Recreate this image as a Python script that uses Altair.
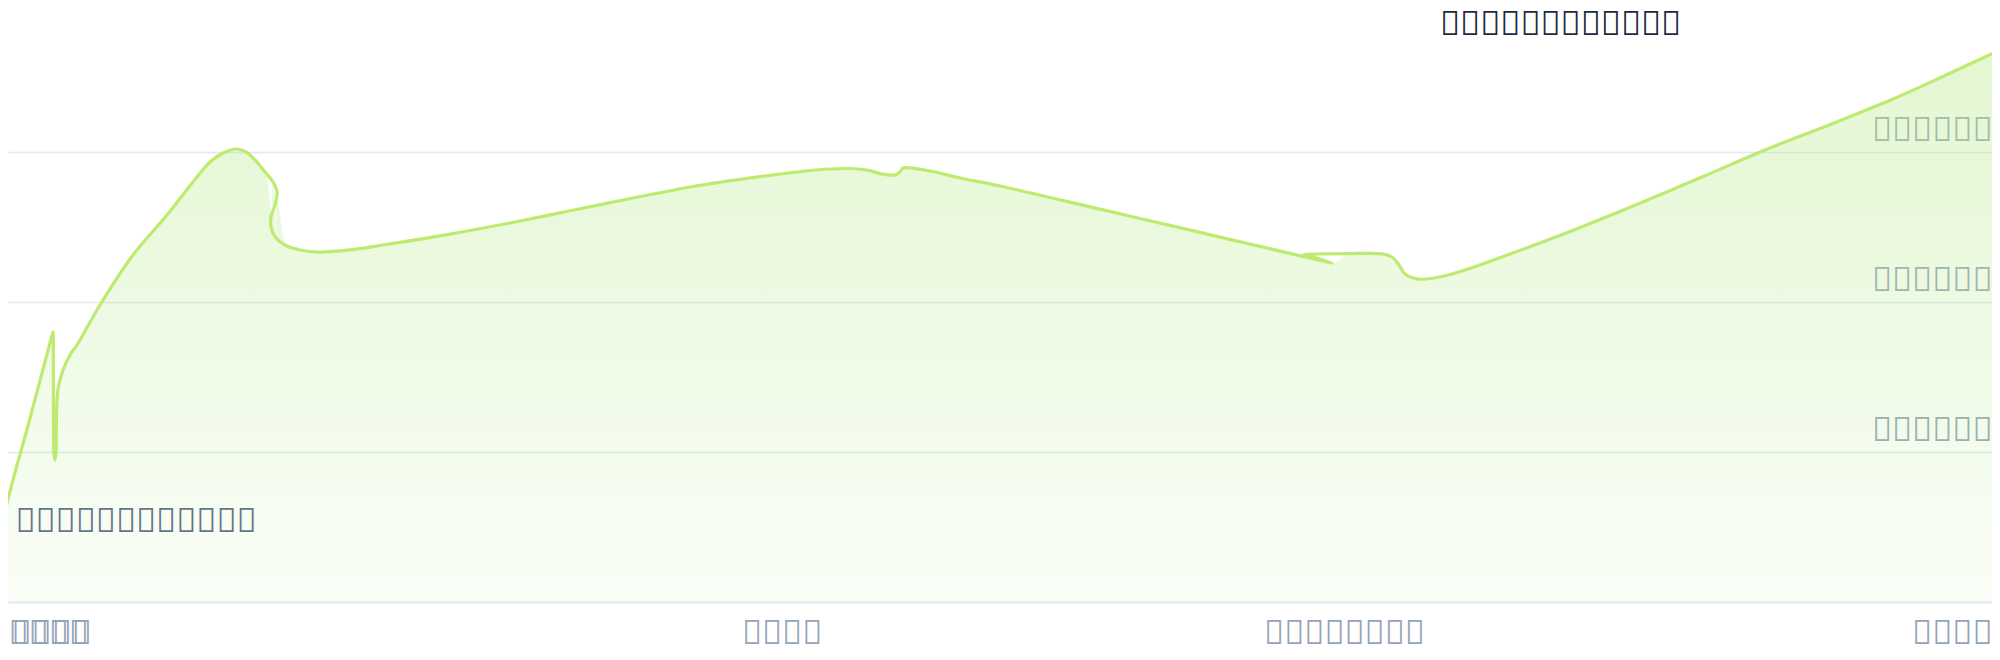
import json
import altair as alt
import pandas as pd

# ---- series: points of the curve, in drawing order (x = timeline %, y = value) ----
path_x = [0.00, 0.25, 1.45, 2.50, 2.65, 2.665, 2.675, 2.70, 2.75, 2.80, 2.825, 2.90,
          3.15, 3.50, 3.85, 5.00, 6.65, 8.35, 9.65, 10.50, 11.15, 11.80, 12.30, 12.75,
          13.25, 13.65, 13.85, 13.75, 13.55, 13.56, 13.80, 14.35, 15.00, 15.95, 17.50,
          19.15, 22.50, 25.50, 28.70, 31.90, 35.10, 38.25, 40.80, 42.40, 43.35, 44.10,
          44.75, 45.00, 45.15, 45.60, 46.50, 48.00, 50.00, 55.00, 60.00, 64.50, 66.60,
          66.00, 65.20, 65.75, 67.50, 69.15, 69.60, 69.95, 70.25, 70.90, 71.70, 72.95,
          75.50, 78.70, 81.90, 85.10, 88.25, 91.45, 94.65, 97.85, 100.00]
path_y = [31.3, 59.3, 120.0, 172.7, 180.0, 170.0, 120.0, 98.7, 94.7, 100.0, 124.7, 142.0,
          154.7, 164.7, 171.3, 198.0, 231.3, 258.0, 280.0, 293.3, 299.3, 302.0, 300.0, 294.7,
          286.7, 280.0, 273.3, 264.7, 256.7, 249.3, 242.7, 237.3, 234.7, 233.3, 234.7,
          238.0, 245.3, 252.7, 261.3, 270.0, 278.0, 284.0, 288.0, 289.0, 288.0, 285.3,
          284.7, 286.7, 289.3, 289.3, 287.3, 282.7, 277.3, 261.9, 246.4, 232.4, 226.0,
          228.7, 231.7, 232.0, 232.3, 232.0, 230.0, 224.7, 218.7, 215.3, 216.0, 220.0,
          232.0, 248.0, 265.3, 283.3, 301.3, 318.0, 335.3, 354.7, 368.0]

# ---- axis ticks and labels (glyphs the reference shows as empty boxes) ----
x_tick_values = [0.4, 0.55, 39.08, 67.2, 99.6]
x_tick_labels = ["\ue000\ue001\ue002\ue003", "\ue000\ue001\ue002\ue003",
                 "\ue004\ue005\ue006\ue007",
                 "\ue008\ue009\ue00a\ue00b\ue00c\ue00d\ue00e\ue00f",
                 "\ue010\ue011\ue012\ue013"]
y_tick_values = [100, 200, 300]
y_tick_labels = ["\ue020\ue021\ue021\ue022\ue023\ue024",
                 "\ue025\ue021\ue021\ue022\ue023\ue024",
                 "\ue026\ue021\ue021\ue022\ue023\ue024"]

# ---- texts ----
title_text = ["\ue030\ue031\ue032\ue033\ue034\ue035\ue036\ue037\ue038\ue039\ue03a\ue03b"]
title_x = [72.0]
title_y = [378.0]
note_text = ["\ue040\ue041\ue042\ue043\ue044\ue045\ue046\ue047\ue048\ue049\ue04a\ue04b"]
note_x = [0.77]
note_y = [46.7]

FONT = "Noto Sans"
FS = 33.5
LINE = "#bdeb6f"
FILL = "#baea8f"


def label_expr(values, labels):
    expr = json.dumps(labels[-1])
    for i in range(len(values) - 2, -1, -1):
        mid = (values[i] + values[i + 1]) / 2
        expr = f"datum.value < {mid} ? {json.dumps(labels[i])} : ({expr})"
    return expr


df = pd.DataFrame({"t": path_x, "v": path_y, "i": list(range(len(path_x)))})
tdf = pd.DataFrame({"t": title_x, "v": title_y, "label": title_text})
ndf = pd.DataFrame({"t": note_x, "v": note_y, "label": note_text})

xs = alt.Scale(domain=[0.4, 99.6], nice=False, zero=False)
ys = alt.Scale(domain=[0, 394.67], nice=False, zero=False)

x_axis = alt.Axis(
    values=x_tick_values, labelExpr=label_expr(x_tick_values, x_tick_labels),
    grid=False, ticks=False, tickSize=0, domain=True, domainColor="#e2e8f0",
    domainWidth=2, labelFlush=10, labelOverlap=False,
    labelColor="#94a3b8", labelFont=FONT, labelFontSize=FS, labelPadding=41,
    labelBaseline="alphabetic", title=None,
)
y_axis = alt.Axis(
    orient="right", values=y_tick_values, labelExpr=label_expr(y_tick_values, y_tick_labels),
    grid=True, gridColor="#e2e8f0", gridWidth=1.5, domain=False, ticks=False, tickSize=0,
    labelAlign="right", labelBaseline="alphabetic", labelPadding=0, labelOffset=-12,
    labelOverlap=False, labelColor="#94a3b8", labelFont=FONT,
    labelFontSize=FS, title=None,
)

fill_enc = dict(
    x=alt.X("t:Q", scale=xs, axis=x_axis),
    y=alt.Y("v:Q", scale=ys, axis=y_axis),
)

# light even wash under the curve
wash = alt.Chart(df).mark_area(
    interpolate="catmull-rom", color=FILL, fillOpacity=0.07, clip=True
).encode(**fill_enc)

# fading wash, strong at the top and vanishing at the baseline
grad = alt.Gradient(
    gradient="linear",
    stops=[alt.GradientStop(offset=0, color="rgba(186,234,143,0.36)"),
           alt.GradientStop(offset=1, color="rgba(186,234,143,0.0)")],
    x1=1, x2=1, y1=0, y2=1,
)
fade = alt.Chart(df).mark_area(
    interpolate="catmull-rom", color=grad, clip=True
).encode(**fill_enc)

line = alt.Chart(df).mark_line(
    interpolate="catmull-rom", clip=True, color=LINE, strokeWidth=3.2,
    strokeCap="round", strokeJoin="round"
).encode(
    x=alt.X("t:Q", scale=xs, axis=x_axis),
    y=alt.Y("v:Q", scale=ys, axis=y_axis),
    order=alt.Order("i:Q"),
)

title = alt.Chart(tdf).mark_text(
    align="left", baseline="alphabetic", font=FONT, fontSize=FS, color="#1e293b"
).encode(
    x=alt.X("t:Q", scale=xs, axis=x_axis),
    y=alt.Y("v:Q", scale=ys, axis=y_axis),
    text="label:N",
)

note = alt.Chart(ndf).mark_text(
    align="left", baseline="alphabetic", font=FONT, fontSize=FS, color="#64748b"
).encode(
    x=alt.X("t:Q", scale=xs, axis=x_axis),
    y=alt.Y("v:Q", scale=ys, axis=y_axis),
    text="label:N",
)

chart = alt.layer(wash, fade, line, title, note).properties(
    width=1984, height=592, padding=0, background="white"
).configure_view(stroke=None)

chart.save("out.html", embed_options={"renderer": "svg", "actions": False})
